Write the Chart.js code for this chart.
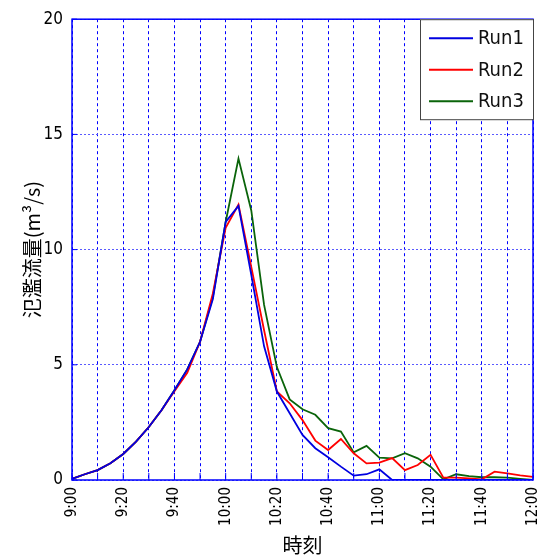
<!DOCTYPE html>
<html>
<head>
<meta charset="utf-8">
<script src="https://cdn.jsdelivr.net/npm/chart.js@4/dist/chart.umd.min.js"></script>
<style>
  html, body { margin: 0; padding: 0; background: #fff; }
  #wrap { width: 541px; height: 558px; position: relative; }
</style>
</head>
<body>
<div id="wrap"><canvas id="graphique-debit"></canvas></div>
<script>
const temps = ["9:00", "9:05", "9:10", "9:15", "9:20", "9:25", "9:30", "9:35", "9:40", "9:45",
    "9:50", "9:55", "10:00", "10:05", "10:10", "10:15", "10:20", "10:25", "10:30", "10:35",
    "10:40", "10:45", "10:50", "10:55", "11:00", "11:05", "11:10", "11:15", "11:20", "11:25",
    "11:30", "11:35", "11:40", "11:45", "11:50", "11:55", "12:00"];

const run1 = [0.05, 0.25, 0.43, 0.73, 1.13, 1.67, 2.3, 3.04, 3.9, 4.8,
    6.0, 7.85, 11.2, 11.9, 8.9, 5.8, 3.84, 2.9, 1.96, 1.38,
    0.99, 0.58, 0.19, 0.25, 0.46, 0, 0, 0, 0, 0,
    0, 0, 0, 0, 0, 0, 0];
const run2 = [0.05, 0.25, 0.43, 0.73, 1.13, 1.67, 2.3, 3.04, 3.85, 4.65,
    6.0, 8.1, 10.95, 11.95, 9.25, 6.5, 3.84, 3.33, 2.6, 1.71,
    1.3, 1.78, 1.16, 0.72, 0.75, 0.95, 0.43, 0.65, 1.09, 0.1,
    0.1, 0.07, 0.03, 0.36, 0.29, 0.2, 0.14];
const run3 = [0.05, 0.25, 0.43, 0.73, 1.13, 1.67, 2.3, 3.04, 3.9, 4.8,
    6.0, 7.95, 11.2, 13.95, 11.7, 7.6, 4.9, 3.5, 3.07, 2.83,
    2.25, 2.1, 1.2, 1.48, 0.97, 0.94, 1.16, 0.94, 0.58, 0.03,
    0.25, 0.17, 0.12, 0.12, 0.1, 0.05, 0.0];

const yTicks = [0, 5, 10, 15, 20];

const policeChiffres = "'DejaVu Sans Condensed', 'Liberation Sans', sans-serif";
const policeJp = "'Noto Sans CJK JP', sans-serif";

// cadre bleu + petites graduations vers l'interieur
const cadrePlugin = {
    id: "cadre",
    afterDatasetsDraw(chart) {
        const { ctx, chartArea: a, scales } = chart;
        ctx.save();
        ctx.strokeStyle = "#0000ff";
        ctx.lineWidth = 1.5;
        ctx.setLineDash([]);
        ctx.strokeRect(a.left, a.top, a.right - a.left, a.bottom - a.top);
        ctx.lineWidth = 1;
        for (let v of yTicks) {
            const y = scales.y.getPixelForValue(v);
            ctx.beginPath();
            ctx.moveTo(a.left, y);
            ctx.lineTo(a.left + 5, y);
            ctx.stroke();
        }
        for (let i = 0; i < temps.length; i += 2) {
            const x = scales.x.getPixelForValue(i);
            ctx.beginPath();
            ctx.moveTo(x, a.bottom);
            ctx.lineTo(x, a.bottom - 7);
            ctx.stroke();
        }
        ctx.restore();
    }
};

// legende encadree dans le coin haut droit
const legendePlugin = {
    id: "legendeCadre",
    afterDraw(chart) {
        const { ctx, chartArea: a } = chart;
        const largeur = 113, hauteur = 100;
        const x0 = a.right - largeur, y0 = a.top;
        ctx.save();
        ctx.fillStyle = "#fff";
        ctx.fillRect(x0, y0, largeur, hauteur);
        ctx.strokeStyle = "#444";
        ctx.lineWidth = 1;
        ctx.strokeRect(x0 + 0.5, y0 + 0.5, largeur, hauteur);
        chart.data.datasets.forEach((ds, i) => {
            const y = y0 + 19 + i * 31.5;
            ctx.strokeStyle = ds.borderColor;
            ctx.lineWidth = 2;
            ctx.beginPath();
            ctx.moveTo(x0 + 9, y);
            ctx.lineTo(x0 + 53, y);
            ctx.stroke();
            ctx.fillStyle = "#111";
            ctx.font = "20px " + policeChiffres;
            ctx.textBaseline = "middle";
            ctx.fillText(ds.label, x0 + 58, y + 1);
        });
        ctx.restore();
    }
};

const data = {
    labels: temps,
    datasets: [
        { label: "Run1", data: run1, borderColor: "#0000e0" },
        { label: "Run2", data: run2, borderColor: "#ff0000" },
        { label: "Run3", data: run3, borderColor: "#0a640a" }
    ]
};
for (let ds of data.datasets) {
    ds.borderWidth = 1.8;
    ds.pointRadius = 0;
    ds.tension = 0;
    ds.fill = false;
}

const config = {
    type: "line",
    data: data,
    options: {
        responsive: false,
        animation: false,
        layout: { padding: { top: 19, right: 8, left: 0, bottom: 0 } },
        plugins: { legend: { display: false }, tooltip: { enabled: false } },
        scales: {
            x: {
                type: "category",
                offset: false,
                afterFit(scale) {
                    scale.height = 78;
                    scale.paddingLeft = 0;
                    scale.paddingRight = 0;
                },
                grid: {
                    color: (c) => (c.index % 2 === 0 ? "#0000ff" : "rgba(0,0,0,0)"),
                    lineWidth: 1,
                    drawTicks: false
                },
                border: { display: false, dash: [3, 3] },
                ticks: {
                    autoSkip: false,
                    minRotation: 90,
                    maxRotation: 90,
                    padding: 7,
                    color: "#000",
                    font: { family: policeChiffres, size: 15 },
                    callback: function (value, index) {
                        return index % 4 === 0 ? this.getLabelForValue(value) : "";
                    }
                },
                title: {
                    display: true,
                    text: "時刻",
                    color: "#000",
                    font: { family: policeJp, size: 20 },
                    padding: { top: 0, bottom: 1 }
                }
            },
            y: {
                min: 0,
                max: 20,
                afterFit(scale) { scale.width = 72; },
                grid: { color: "#5a5aff", lineWidth: 1, drawTicks: false },
                border: { display: false, dash: [2, 2] },
                ticks: {
                    stepSize: 5,
                    padding: 9,
                    color: "#000",
                    font: { family: policeChiffres, size: 17 }
                },
                title: {
                    display: true,
                    text: "氾濫流量(m³/s)",
                    color: "#000",
                    font: { family: policeJp, size: 20 },
                    padding: { top: 20, bottom: 0 }
                }
            }
        }
    },
    plugins: [cadrePlugin, legendePlugin]
};

const canvas = document.querySelector("#graphique-debit");
canvas.width = 541;
canvas.height = 558;
const graphiqueDebit = new Chart(canvas, config);
</script>
</body>
</html>
